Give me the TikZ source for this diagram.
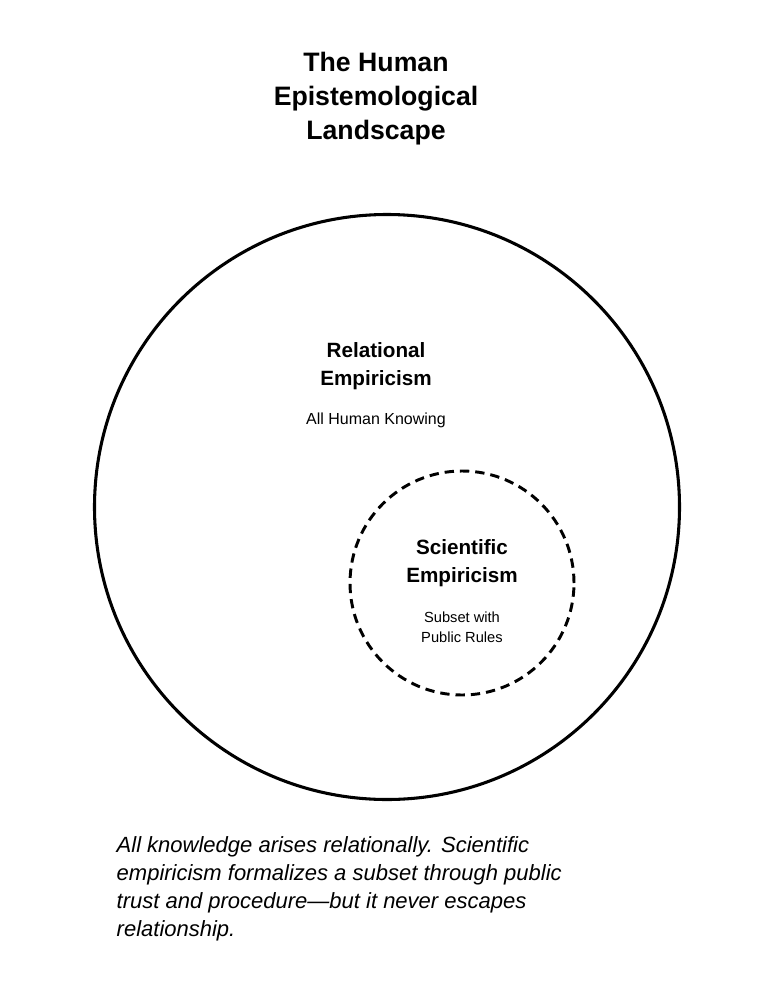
\documentclass[tikz,border=0pt]{standalone}
\usepackage{fontspec}
\setmainfont{Liberation Sans}
\begin{document}
\begin{tikzpicture}[x=0.75pt,y=-0.75pt,
  title/.style={font=\bfseries\fontsize{20}{25.5}\selectfont,align=center},
  head/.style={font=\bfseries\fontsize{15.5}{21}\selectfont,align=center},
  sub/.style={font=\fontsize{12}{15}\selectfont,align=center},
  small/.style={font=\fontsize{11}{15}\selectfont,align=center}]
\useasboundingbox (0,0) rectangle (773,1000);
\node[title] (t) at (376,99) {The Human\\Epistemological\\Landscape};
\node[circle,draw,line width=2.3pt,minimum size=585*0.75pt,inner sep=0] (big) at (387,507) {};
\node[circle,draw,line width=2.2pt,dash pattern=on 7pt off 4.5pt,minimum size=224*0.75pt,inner sep=0] (sm) at (462,583) {};
\node[head] (re) at (376,366) {Relational\\Empiricism};
\node[sub] (ah) at (376,420) {All Human Knowing};
\node[head] (se) at (462,563) {Scientific\\Empiricism};
\node[small] (sw) at (462,627) {Subset with\\Public Rules};
\node[font=\itshape\fontsize{16.5}{21}\selectfont,align=left,anchor=north west] (cap) at (112,832)
{All knowledge arises relationally. Scientific\\empiricism formalizes a subset through public\\trust and procedure---but it never escapes\\relationship.};
\end{tikzpicture}
\end{document}
